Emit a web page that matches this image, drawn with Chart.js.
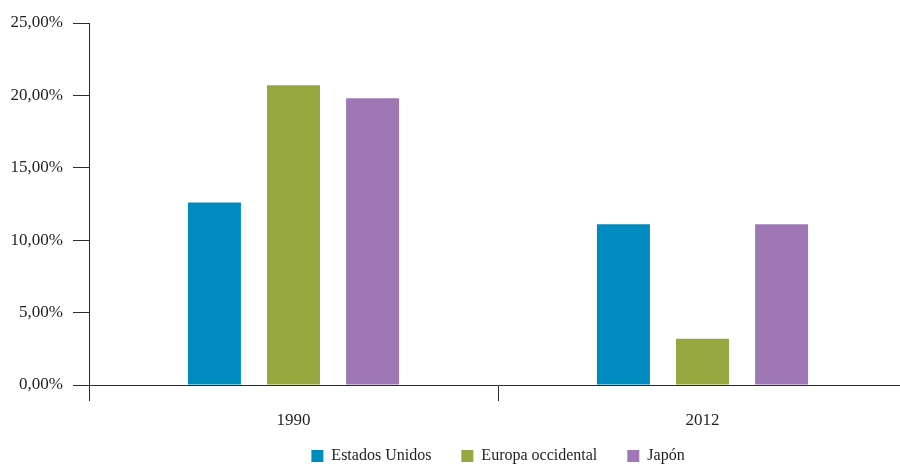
<!DOCTYPE html>
<html>
<head>
<meta charset="utf-8">
<script src="https://cdn.jsdelivr.net/npm/chart.js@4/dist/chart.umd.min.js"></script>
<style>
  body { margin: 0; overflow: hidden; background: #fff; }
  #wrap { position: relative; width: 910px; height: 486px; }
</style>
</head>
<body>
<div id="wrap"><canvas id="barChart"></canvas></div>
<script>
const years = ['1990', '2012'];
const estadosUnidos = [12.6, 11.1];
const europaOccidental = [20.7, 3.2];
const japon = [19.8, 11.1];
const yTicks = [0, 5, 10, 15, 20, 25];

const serif = "'Liberation Serif', 'DejaVu Serif', serif";
const textColor = '#231f20';
const lineColor = '#2b2b2b';

function pct(v) {
  return v.toFixed(2).replace('.', ',') + '%';
}

// pull the legend up a little so it sits closer to the year labels
const legendNudge = {
  id: 'legendNudge',
  afterLayout(chart) {
    chart.legend.top -= 12;
    chart.legend.bottom -= 12;
  }
};

const ctx = document.getElementById('barChart').getContext('2d');
new Chart(ctx, {
  type: 'bar',
  data: {
    labels: years,
    datasets: [
      { label: 'Estados Unidos', data: estadosUnidos, backgroundColor: '#008bc0' },
      { label: 'Europa occidental', data: europaOccidental, backgroundColor: '#97a73f' },
      { label: 'Japón', data: japon, backgroundColor: '#9f77b5' }
    ]
  },
  plugins: [legendNudge],
  options: {
    responsive: true,
    maintainAspectRatio: false,
    animation: false,
    layout: { padding: { top: 23, right: 3, left: 0, bottom: 0 } },
    datasets: {
      bar: { categoryPercentage: 0.58, barPercentage: 0.67 }
    },
    plugins: {
      tooltip: { enabled: false },
      legend: {
        position: 'bottom',
        fullSize: false,
        labels: {
          boxWidth: 12,
          boxHeight: 12,
          padding: 30,
          color: textColor,
          font: { family: serif, size: 16 }
        }
      }
    },
    scales: {
      x: {
        offset: true,
        grid: {
          offset: true,
          drawOnChartArea: false,
          drawTicks: true,
          tickLength: 16,
          color: lineColor
        },
        border: { color: lineColor, width: 1 },
        ticks: {
          color: textColor,
          padding: 9,
          font: { family: serif, size: 17 }
        },
        afterFit(scale) { scale.height = 45; }
      },
      y: {
        min: 0,
        max: 25,
        afterBuildTicks(scale) {
          scale.ticks = yTicks.map(v => ({ value: v }));
        },
        grid: {
          drawOnChartArea: false,
          drawTicks: true,
          tickLength: 16,
          color: lineColor
        },
        border: { color: lineColor, width: 1 },
        ticks: {
          color: textColor,
          padding: 10,
          font: { family: serif, size: 17 },
          callback: v => pct(v)
        },
        afterFit(scale) { scale.width = 89; }
      }
    }
  }
});
</script>
</body>
</html>
